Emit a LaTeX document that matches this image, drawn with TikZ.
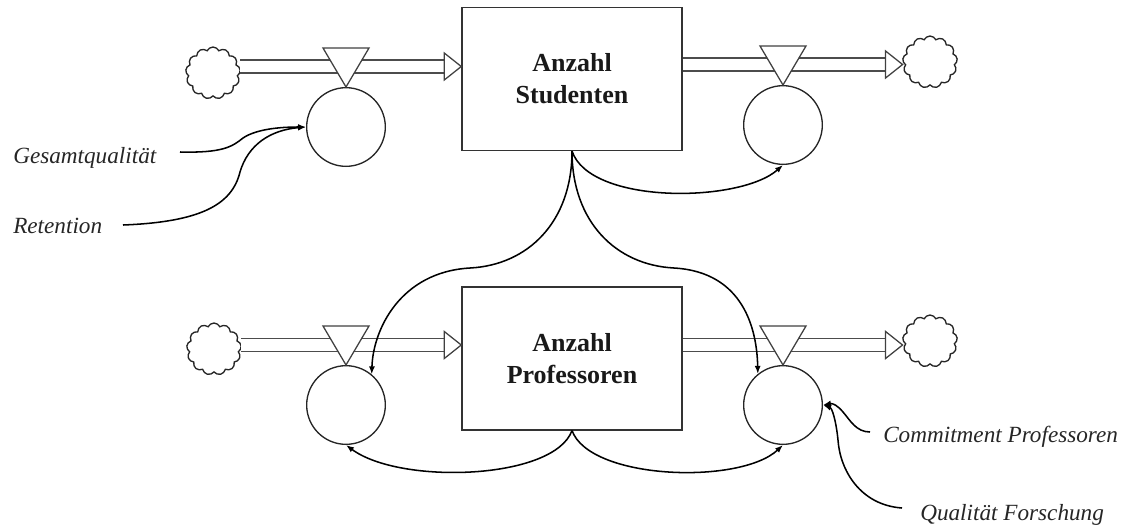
\documentclass[tikz,border=0pt]{standalone}
\usepackage{fontspec}
\setmainfont{Liberation Serif}
\usetikzlibrary{shapes.symbols,calc,arrows.meta}

\tikzset{
  stock/.style={draw=black!80, line width=1.1pt, fill=white, minimum width=165pt,
    minimum height=107pt, inner sep=0pt, align=center,
    font=\fontsize{19.5}{24}\selectfont\bfseries, text=black!90},
  conv/.style={circle, draw=black!85, line width=1pt, fill=white,
    minimum size=59pt, inner sep=0pt},
  sourcecloud/.style={cloud, cloud puffs=13, cloud puff arc=130, aspect=1,
    draw=black!85, line width=1pt, fill=white, minimum width=41pt,
    minimum height=39pt, inner sep=0pt},
  pipe/.style={draw=black!70, line width=0.95pt, double=white, double distance=8.8pt},
  valvest/.style={draw=black!75, line width=0.95pt, fill=white, line join=miter},
  headst/.style={draw=black!75, line width=0.95pt, fill=white, line join=miter},
  link/.style={draw=black, line width=1.15pt, -{Latex[length=6pt,width=4.5pt]}},
  lbl/.style={font=\fontsize{17.4}{20}\selectfont\itshape, text=black!85,
    inner sep=0pt, anchor=base west},
}

% valve triangle sitting on top of a converter
\newcommand\valveon[1]{%
  \draw[valvest] ($(#1.north)+(-23,-39)$) -- ($(#1.north)+(23,-39)$) -- (#1.north) -- cycle;}
% hollow pipe head ending at a given point
\newcommand\pipehead[1]{%
  \draw[headst] ($(#1)+(-17,-13.5)$) -- ($(#1)+(-17,13.5)$) -- (#1) -- cycle;}

\begin{document}
\begin{tikzpicture}[x=0.75pt,y=-0.75pt]
\useasboundingbox (0,0) rectangle (1133,526);

% ---------- stocks ----------
\node[stock] (stud) at (572,79) {Anzahl\\Studenten};
\node[stock] (prof) at (572,358.5) {Anzahl\\Professoren};

% ---------- sources and sinks ----------
\node[sourcecloud] (cl1) at (213,73) {};
\node[sourcecloud] (cl2) at (930,62) {};
\node[sourcecloud] (cl3) at (214,349) {};
\node[sourcecloud] (cl4) at (930,341) {};

% ---------- pipe end points ----------
\coordinate (t1) at (stud.west |- 0,66.5);
\coordinate (t2) at (cl2.west |- 0,64.5);
\coordinate (t3) at (prof.west |- 0,345);
\coordinate (t4) at (cl4.west |- 0,345);

% ---------- pipes ----------
\draw[pipe] (cl1.east |- t1) -- ($(t1)+(-17,0)$);
\draw[pipe] (stud.east |- t2) -- ($(t2)+(-17,0)$);
\draw[pipe] (cl3.east |- t3) -- ($(t3)+(-17,0)$);
\draw[pipe] (prof.east |- t4) -- ($(t4)+(-17,0)$);
\pipehead{t1}
\pipehead{t2}
\pipehead{t3}
\pipehead{t4}

% ---------- rates ----------
\node[conv] (inS) at (346,127) {};
\node[conv] (outS) at (783,125) {};
\node[conv] (inP) at (346,405) {};
\node[conv] (outP) at (783,405) {};
\valveon{inS}
\valveon{outS}
\valveon{inP}
\valveon{outP}

% ---------- external influences ----------
\node[lbl] (gq) at (13,163) {Gesamtqualität};
\node[lbl] (ret) at (13,233) {Retention};
\node[lbl] (cp) at (883,442) {Commitment Professoren};
\node[lbl] (qf) at (920,520) {Qualität Forschung};

\coordinate (gqS) at (180,152);
\coordinate (retS) at (123,225);
\coordinate (cpS) at (870,432);
\coordinate (qfS) at (902,508);

\draw[link] (gqS) .. controls (222,153) and (232,147) .. (243,138)
  .. controls (258,128) and (285,127) .. (inS.west);
\draw[link] (retS) .. controls (200,222) and (232,205) .. (240,172)
  .. controls (248,145) and (270,130) .. (inS.west);
\draw[link] (cpS) .. controls (856,432) and (850,420) .. (843,412)
  .. controls (838,406) and (833,403) .. (outP.east);
\draw[link] (qfS) .. controls (860,505) and (840,470) .. (838,440)
  .. controls (836,420) and (832,408) .. (outP.east);

% ---------- stock feedback links ----------
\draw[link] (stud.south) .. controls (590,205) and (740,203) .. (outS.south);
\draw[link] (stud.south) .. controls (572,222) and (528,265) .. (470,268)
  .. controls (400,272) and (373,330) .. (inP.50);
\draw[link] (stud.south) .. controls (572,222) and (616,265) .. (674,268)
  .. controls (744,272) and (757,330) .. (outP.129);
\draw[link] (prof.south) .. controls (590,480) and (740,485) .. (outP.south);
\draw[link] (prof.south) .. controls (554,480) and (400,485) .. (inP.south);

\end{tikzpicture}
\end{document}
